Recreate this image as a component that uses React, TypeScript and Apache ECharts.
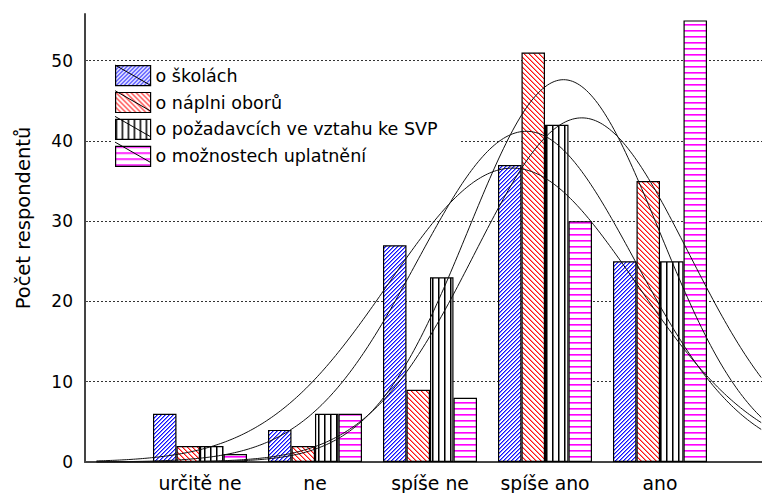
import React, { useEffect, useRef } from "react";
import * as echarts from "echarts";

// ---- data ----
const categories = ["určitě ne", "ne", "spíše ne", "spíše ano", "ano"];
const seriesNames = [
  "o školách",
  "o náplni oborů",
  "o požadavcích ve vztahu ke SVP",
  "o možnostech uplatnění",
];
const skolach = [6, 4, 27, 37, 25];
const napln = [2, 2, 9, 51, 35];
const pozadavky = [2, 6, 23, 42, 25];
const uplatneni = [1, 6, 8, 30, 55];
const yTicks = [0, 10, 20, 30, 40, 50];
const yTitle = "Počet respondentů";

// ---- layout constants ----
const FONT = "DejaVu Sans";
const X_MAX = 5.887;
const Y_MAX = 55.8;
const CURVE_START = 0.1;
const LEG_LEFT = 112;
const LEG_TOP = 62;
const LEG_PAD = [3, 22, 3, 3];
const ICON_W = 35;
const ICON_H = 20;
const ICON_GAP = 5.7;

function makePattern(w: number, h: number, draw: (ctx: CanvasRenderingContext2D) => void) {
  const c = document.createElement("canvas");
  c.width = w;
  c.height = h;
  const ctx = c.getContext("2d") as CanvasRenderingContext2D;
  ctx.fillStyle = "#ffffff";
  ctx.fillRect(0, 0, w, h);
  draw(ctx);
  return { image: c, repeat: "repeat", imageWidth: w, imageHeight: h } as any;
}

function normalFit(values: number[]) {
  let n = 0;
  let s = 0;
  values.forEach((v, i) => {
    n += v;
    s += v * (i + 1);
  });
  const mean = s / n;
  let ss = 0;
  values.forEach((v, i) => {
    ss += v * (i + 1 - mean) * (i + 1 - mean);
  });
  const sd = Math.sqrt(ss / (n - 1));
  const pts: number[][] = [];
  for (let x = CURVE_START; x <= X_MAX + 1e-9; x += 0.02) {
    const z = (x - mean) / sd;
    pts.push([x, (n * Math.exp(-0.5 * z * z)) / (sd * Math.sqrt(2 * Math.PI))]);
  }
  return pts;
}

export default function App() {
  const ref = useRef<HTMLDivElement>(null);

  useEffect(() => {
    document.body.style.margin = "0";
    if (!ref.current) return;
    const chart = echarts.init(ref.current, null, { renderer: "svg" });

    const bluePat = makePattern(4, 4, (ctx) => {
      for (let i = 0; i < 4; i++) {
        ctx.fillStyle = "#1010ff";
        ctx.fillRect(i, 3 - i, 1, 1);
        ctx.fillStyle = "#8080ff";
        ctx.fillRect((i + 1) % 4, 3 - i, 1, 1);
      }
    });
    const redPat = makePattern(5, 5, (ctx) => {
      for (let i = 0; i < 5; i++) {
        ctx.fillStyle = "#ff1010";
        ctx.fillRect(i, i, 1, 1);
        ctx.fillStyle = "#ff8a8a";
        ctx.fillRect((i + 1) % 5, i, 1, 1);
      }
    });
    const blackPat = makePattern(6, 6, (ctx) => {
      ctx.fillStyle = "#000000";
      ctx.fillRect(0, 0, 1, 6);
      ctx.fillStyle = "#7a7a7a";
      ctx.fillRect(1, 0, 1, 6);
    });
    const pinkPat = makePattern(6, 6, (ctx) => {
      ctx.fillStyle = "#ff00ff";
      ctx.fillRect(0, 0, 6, 1);
      ctx.fillStyle = "#ff60ff";
      ctx.fillRect(0, 1, 6, 1);
    });

    const valuesList = [skolach, napln, pozadavky, uplatneni];
    const patterns = [bluePat, redPat, blackPat, pinkPat];

    const barSeries = valuesList.map((vals, si) => ({
      name: seriesNames[si],
      type: "bar",
      barWidth: 23.5,
      barGap: "0%",
      data: vals.map((v, i) => [i + 1, v]),
      itemStyle: { color: patterns[si], borderColor: "#000", borderWidth: 1.2 },
      emphasis: { disabled: true },
      z: 2,
    }));

    const curveSeries = valuesList.map((vals, si) => ({
      name: "fit" + si,
      type: "line",
      data: normalFit(vals),
      showSymbol: false,
      symbol: "none",
      smooth: false,
      lineStyle: { color: "#111", width: 1 },
      emphasis: { disabled: true },
      z: 3,
    }));

    const iconLeft = LEG_LEFT + LEG_PAD[3];
    const iconTop = LEG_TOP + LEG_PAD[0];
    const legendDiagonals = seriesNames.map((_, i) => ({
      type: "line",
      z: 100,
      silent: true,
      shape: {
        x1: iconLeft,
        y1: iconTop + i * (ICON_H + ICON_GAP),
        x2: iconLeft + ICON_W,
        y2: iconTop + i * (ICON_H + ICON_GAP) + ICON_H,
      },
      style: { stroke: "#000", lineWidth: 1 },
    }));

    const option: any = {
      animation: false,
      grid: { left: 85, right: 0, top: 14, bottom: 30, containLabel: false },
      xAxis: {
        type: "value",
        min: 0,
        max: X_MAX,
        interval: 1,
        axisLine: { show: true, onZero: false, lineStyle: { color: "#444", width: 2 } },
        axisTick: { show: false },
        splitLine: { show: false },
        axisLabel: {
          show: true,
          margin: 12,
          fontFamily: FONT,
          fontSize: 18.8,
          color: "#000",
          showMaxLabel: false,
          formatter: (v: number) => {
            const r = Math.round(v);
            if (Math.abs(v - r) > 1e-6 || r < 1 || r > categories.length) return "";
            return categories[r - 1];
          },
        },
      },
      yAxis: {
        type: "value",
        min: 0,
        max: Y_MAX,
        interval: 10,
        axisLine: { show: true, lineStyle: { color: "#444", width: 2 } },
        axisTick: { show: true, inside: true, length: 3, lineStyle: { color: "#444" } },
        splitLine: {
          show: true,
          showMinLine: false,
          showMaxLine: false,
          lineStyle: { type: [2, 2], color: "#333", width: 1 },
        },
        axisLabel: {
          margin: 12,
          fontFamily: FONT,
          fontSize: 17,
          color: "#000",
          showMaxLabel: false,
          formatter: (v: number) => {
            const r = Math.round(v);
            return yTicks.indexOf(r) >= 0 && Math.abs(v - r) < 1e-6 ? String(r) : "";
          },
        },
      },
      legend: {
        data: seriesNames,
        orient: "vertical",
        left: LEG_LEFT,
        top: LEG_TOP,
        padding: LEG_PAD,
        backgroundColor: "#ffffff",
        itemWidth: ICON_W,
        itemHeight: ICON_H,
        itemGap: ICON_GAP,
        icon: "rect",
        selectedMode: false,
        itemStyle: { borderColor: "#000", borderWidth: 1.2 },
        textStyle: { fontFamily: FONT, fontSize: 17.5, color: "#000" },
      },
      graphic: [
        ...legendDiagonals,
        {
          type: "text",
          x: 23,
          y: 218,
          rotation: Math.PI / 2,
          silent: true,
          style: {
            text: yTitle,
            fontFamily: FONT,
            fontSize: 19.5,
            fill: "#000",
            align: "center",
            verticalAlign: "middle",
          },
        },
      ],
      series: [...barSeries, ...curveSeries],
    };

    chart.setOption(option);
    return () => {
      chart.dispose();
    };
  }, []);

  return (
    <div
      ref={ref}
      style={{ position: "absolute", left: 0, top: 0, width: 762, height: 493, background: "#fff" }}
    />
  );
}
